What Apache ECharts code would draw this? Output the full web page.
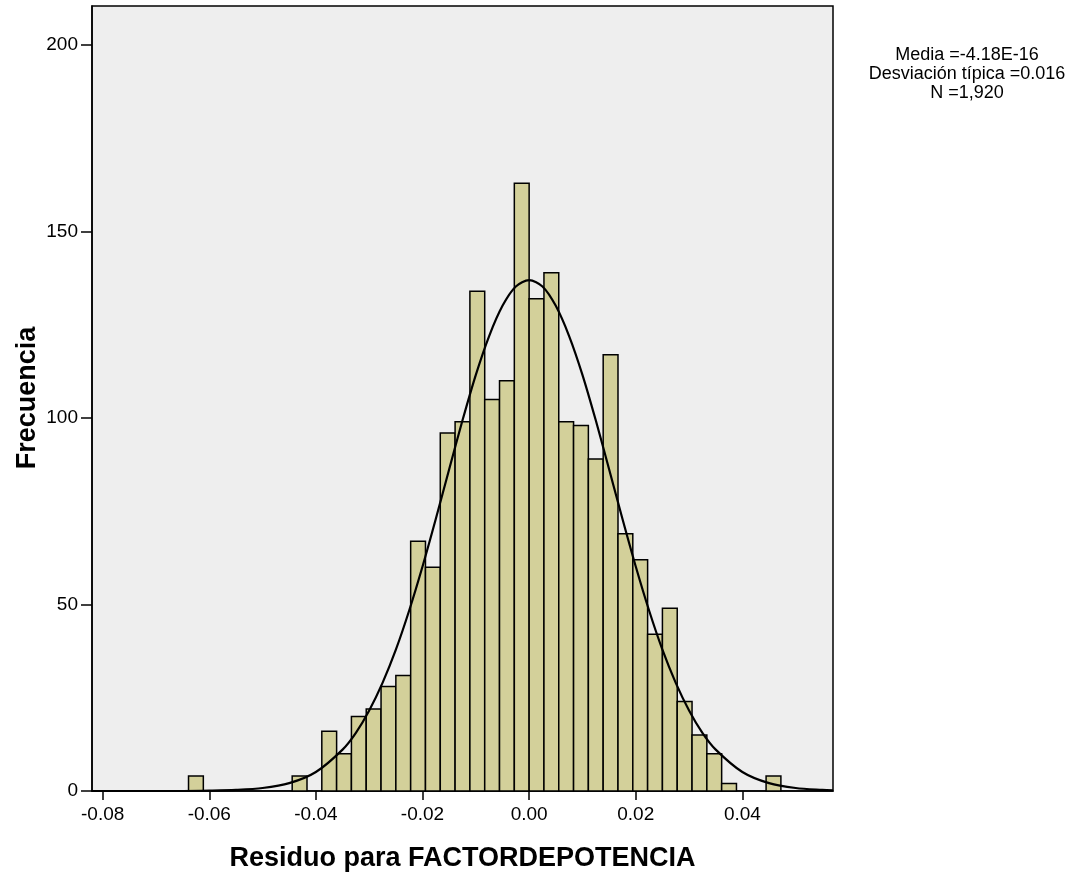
<!DOCTYPE html>
<html>
<head>
<meta charset="utf-8">
<script src="https://cdn.jsdelivr.net/npm/echarts@6/dist/echarts.min.js"></script>
<style>
  html, body { margin: 0; padding: 0; background: #fff; }
  #main { width: 1090px; height: 880px; }
</style>
</head>
<body>
<div id="main"></div>
<script>
// histogram bins: index k means the bin [k*binWidth, (k+1)*binWidth]
var binWidth = 0.002778;
var binIndex = [-23, -16, -14, -13, -12, -11, -10, -9, -8, -7, -6, -5, -4, -3, -2, -1,
                0, 1, 2, 3, 4, 5, 6, 7, 8, 9, 10, 11, 12, 13, 16];
var counts   = [4, 4, 16, 10, 20, 22, 28, 31, 67, 60, 96, 99, 134, 105, 110, 163,
                132, 139, 99, 98, 89, 117, 69, 62, 42, 49, 24, 15, 10, 2, 4];

// normal curve
var curveX = [-0.082, -0.075, -0.07, -0.065, -0.06, -0.055, -0.05, -0.045, -0.04, -0.035,
              -0.0325, -0.03, -0.0275, -0.025, -0.0225, -0.02, -0.0175, -0.015, -0.0125, -0.01,
              -0.0075, -0.005, -0.0025, 0, 0.0025, 0.005, 0.0075, 0.01, 0.0125, 0.015,
              0.0175, 0.02, 0.0225, 0.025, 0.0275, 0.03, 0.0325, 0.035, 0.04, 0.045,
              0.05, 0.055, 0.057];
var curveY = [0, 0, 0, 0, 0.1, 0.3, 0.8, 2.1, 5.1, 11.1,
              15.6, 21.6, 29.0, 37.9, 48.4, 60.2, 73.0, 86.3, 99.4, 111.6,
              122.0, 130.1, 135.3, 137, 135.3, 130.1, 122.0, 111.6, 99.4, 86.3,
              73.0, 60.2, 48.4, 37.9, 29.0, 21.6, 15.6, 11.1, 5.1, 2.1,
              0.8, 0.3, 0.2];

var xTicks = [-0.08, -0.06, -0.04, -0.02, 0.00, 0.02, 0.04];
var yTicks = [0, 50, 100, 150, 200];

var xTitle = 'Residuo para FACTORDEPOTENCIA';
var yTitle = 'Frecuencia';
var statsText = ['Media =-4.18E-16', 'Desviación típica =0.016', 'N =1,920'];

var barData = binIndex.map(function (k, i) {
    return [k * binWidth, (k + 1) * binWidth, counts[i]];
});
var lineData = curveX.map(function (x, i) { return [x, curveY[i]]; });

var chart = echarts.init(document.getElementById('main'));

var option = {
    backgroundColor: '#ffffff',
    animation: false,
    grid: {
        left: 92, top: 6, width: 741, height: 785,
        show: true,
        backgroundColor: '#eeeeee',
        borderColor: '#000',
        borderWidth: 1.5
    },
    xAxis: {
        type: 'value',
        min: -0.082,
        max: 0.057,
        name: xTitle,
        nameLocation: 'middle',
        nameGap: 54,
        nameTextStyle: { fontFamily: 'Liberation Sans, Arial', fontWeight: 'bold', fontSize: 27, color: '#000' },
        axisLine: { show: true, onZero: false, lineStyle: { color: '#000', width: 1.5 } },
        axisTick: { show: true, length: 9, customValues: xTicks, lineStyle: { color: '#000', width: 1.5 } },
        axisLabel: {
            customValues: xTicks,
            margin: 14,
            fontFamily: 'Liberation Sans, Arial',
            fontSize: 19,
            color: '#000',
            formatter: function (v) { return v.toFixed(2); }
        },
        splitLine: { show: false }
    },
    yAxis: {
        type: 'value',
        min: 0,
        max: 210.5,
        axisLine: { show: true, onZero: false, lineStyle: { color: '#000', width: 1.5 } },
        axisTick: { show: true, length: 11, customValues: yTicks, lineStyle: { color: '#000', width: 1.5 } },
        axisLabel: {
            customValues: yTicks,
            margin: 14,
            fontFamily: 'Liberation Sans, Arial',
            fontSize: 19,
            color: '#000'
        },
        splitLine: { show: false }
    },
    graphic: [{
        type: 'text',
        x: 967,
        y: 46,
        style: {
            text: statsText.join('\n'),
            align: 'center',
            fontFamily: 'Liberation Sans, Arial',
            fontSize: 18,
            lineHeight: 19,
            fill: '#000'
        }
    }, {
        type: 'text',
        x: 28,
        y: 398,
        rotation: Math.PI / 2,
        style: {
            text: yTitle,
            align: 'center',
            verticalAlign: 'middle',
            fontFamily: 'Liberation Sans, Arial',
            fontWeight: 'bold',
            fontSize: 27,
            fill: '#000'
        }
    }],
    series: [
        {
            type: 'custom',
            z: 2,
            data: barData,
            encode: { x: [0, 1], y: 2 },
            renderItem: function (params, api) {
                var p0 = api.coord([api.value(0), api.value(2)]);
                var p1 = api.coord([api.value(1), 0]);
                return {
                    type: 'rect',
                    shape: { x: p0[0], y: p0[1], width: p1[0] - p0[0], height: p1[1] - p0[1] },
                    style: { fill: '#d3d09a', stroke: '#000', lineWidth: 1.5 }
                };
            }
        },
        {
            type: 'line',
            z: 3,
            data: lineData,
            smooth: 0.3,
            showSymbol: false,
            lineStyle: { color: '#000', width: 2.2 }
        }
    ]
};

chart.setOption(option);
window.addEventListener('resize', function () { chart.resize(); });
</script>
</body>
</html>
